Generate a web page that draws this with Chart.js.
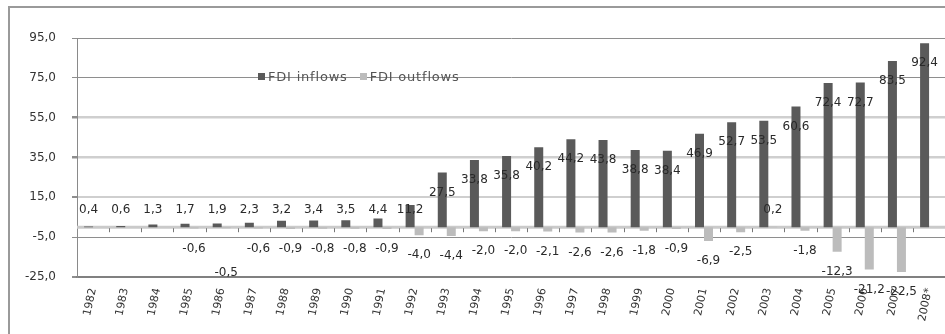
<!DOCTYPE html>
<html>
<head>
<meta charset="utf-8">
<script src="https://cdn.jsdelivr.net/npm/chart.js@4"></script>
<style>
  html, body { margin: 0; padding: 0; background: #fff; overflow: hidden; }
  #wrap { position: absolute; left: 0; top: 0; width: 952px; height: 334px; }
  #frame { position: absolute; left: 8px; top: 6px; width: 1000px; height: 400px;
           border: 2px solid #9a9a9a; pointer-events: none; }
  #legend { position: absolute; left: 258px; top: 69px; font: 13px "DejaVu Sans", sans-serif;
            color: #555; letter-spacing: 0.8px; white-space: nowrap; }
  #legend span.box { display: inline-block; width: 7px; height: 7px; margin-right: 3px; vertical-align: 1px; }
  #legend span.item { margin-right: 12px; }
</style>
</head>
<body>
<div id="frame"></div>
<div id="wrap"><canvas id="fdi-chart"></canvas></div>
<div id="legend"></div>
<script>
const years = ['1982', '1983', '1984', '1985', '1986', '1987', '1988', '1989', '1990', '1991',
  '1992', '1993', '1994', '1995', '1996', '1997', '1998', '1999', '2000', '2001',
  '2002', '2003', '2004', '2005', '2006', '2007', '2008*'];
const inflows = [0.4, 0.6, 1.3, 1.7, 1.9, 2.3, 3.2, 3.4, 3.5, 4.4,
  11.2, 27.5, 33.8, 35.8, 40.2, 44.2, 43.8, 38.8, 38.4, 46.9,
  52.7, 53.5, 60.6, 72.4, 72.7, 83.5, 92.4];
const outflows = [null, null, null, -0.6, -0.5, -0.6, -0.9, -0.8, -0.8, -0.9,
  -4.0, -4.4, -2.0, -2.0, -2.1, -2.6, -2.6, -1.8, -0.9, -6.9,
  -2.5, 0.2, -1.8, -12.3, -21.2, -22.5, null];
const yMin = -25, yMax = 95, yStep = 20;

const fmt = v => v.toFixed(1).replace('.', ',');

// zero line with small category ticks, drawn under the bars
const zeroLine = {
  id: 'zeroLine',
  beforeDatasetsDraw(chart) {
    const { ctx, chartArea, scales: { x, y } } = chart;
    const zy = y.getPixelForValue(0);
    ctx.save();
    ctx.strokeStyle = '#cacaca';
    ctx.lineWidth = 3;
    ctx.beginPath();
    ctx.moveTo(chartArea.left, zy);
    ctx.lineTo(chartArea.right, zy);
    ctx.stroke();
    ctx.strokeStyle = '#777';
    ctx.lineWidth = 1;
    for (let i = 1; i < years.length; i++) {
      const bx = Math.round((x.getPixelForValue(i - 1) + x.getPixelForValue(i)) / 2) + 0.5;
      ctx.beginPath();
      ctx.moveTo(bx, zy + 1);
      ctx.lineTo(bx, zy + 5);
      ctx.stroke();
    }
    ctx.restore();
  }
};

// value labels, about 20px inside the bar end (Excel style)
const nudge = { '1-4': 25 }; // 1986 outflow label was pushed down to avoid overlap
const valueLabels = {
  id: 'valueLabels',
  afterDraw(chart) {
    const { ctx, scales: { y } } = chart;
    const zy = y.getPixelForValue(0);
    ctx.save();
    ctx.font = '12px "DejaVu Sans", sans-serif';
    ctx.fillStyle = '#2a2a2a';
    ctx.textAlign = 'center';
    ctx.textBaseline = 'middle';
    chart.data.datasets.forEach((ds, di) => {
      chart.getDatasetMeta(di).data.forEach((bar, i) => {
        const v = ds.data[i];
        if (v === null || v === undefined) return;
        let ly = bar.y + 20;
        if (v > 0) ly = Math.min(ly, zy - 17);
        ly += nudge[di + '-' + i] || 0;
        ctx.fillText(fmt(v), bar.x, ly);
      });
    });
    ctx.restore();
  }
};

function gridColor(v) {
  if (v === 55 || v === 35 || v === 15) return '#cfcfcf';
  if (v === -25) return '#808080';
  return '#8e8e8e';
}
function gridWidth(v) {
  if (v === 55 || v === 35) return 2.5;
  if (v === 15 || v === -25) return 2;
  return 1;
}

const chart = new Chart(document.getElementById('fdi-chart'), {
  type: 'bar',
  data: {
    labels: years,
    datasets: [
      { label: 'FDI inflows', data: inflows, backgroundColor: '#5a5a5a' },
      { label: 'FDI outflows', data: outflows, backgroundColor: '#bcbcbc' }
    ]
  },
  options: {
    responsive: true,
    maintainAspectRatio: false,
    animation: false,
    layout: { padding: { left: 0, right: 0, top: 38, bottom: 0 } },
    datasets: { bar: { categoryPercentage: 0.56, barPercentage: 1.0 } },
    plugins: { legend: { display: false }, tooltip: { enabled: false } },
    scales: {
      x: {
        offset: true,
        grid: { display: false, drawTicks: false },
        border: { display: true, color: '#808080', width: 2 },
        ticks: {
          minRotation: 78, maxRotation: 78, padding: 10,
          color: '#333', font: { family: 'DejaVu Sans', size: 11 }
        },
        afterFit: s => { s.height = 57; }
      },
      y: {
        min: yMin, max: yMax,
        grid: {
          color: c => gridColor(c.tick ? c.tick.value : 0),
          lineWidth: c => gridWidth(c.tick ? c.tick.value : 0),
          tickLength: 5, tickColor: '#8e8e8e'
        },
        border: { display: true, color: '#8a8a8a', width: 1 },
        ticks: {
          stepSize: yStep, padding: 16, color: '#333',
          font: { family: 'DejaVu Sans', size: 12 },
          callback: v => fmt(v)
        },
        afterFit: s => { s.width = 77; }
      }
    }
  },
  plugins: [zeroLine, valueLabels]
});

// legend built from the datasets
const legendEl = document.getElementById('legend');
chart.data.datasets.forEach(ds => {
  const item = document.createElement('span');
  item.className = 'item';
  item.innerHTML = `<span class="box" style="background:${ds.backgroundColor}"></span>${ds.label}`;
  legendEl.appendChild(item);
});
</script>
</body>
</html>
